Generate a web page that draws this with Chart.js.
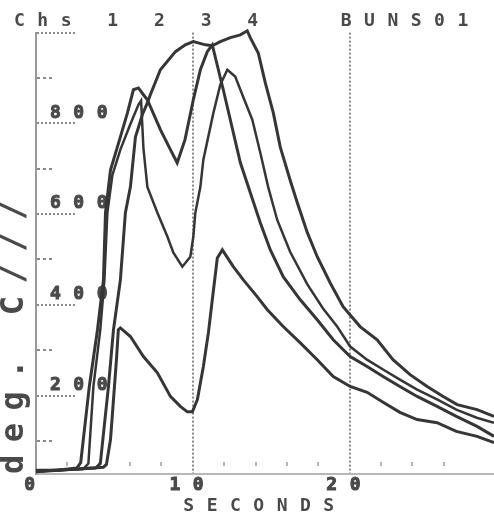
<!DOCTYPE html>
<html>
<head>
<meta charset="utf-8">
<style>
  html, body { margin: 0; padding: 0; background: #fff; }
</style>
</head>
<body>
<canvas id="tempChart" width="494" height="514"></canvas>
<script src="https://cdn.jsdelivr.net/npm/chart.js@4.4.0/dist/chart.umd.min.js"></script>
<script>
// channel traces, seconds / deg C
const ch1Time = [0, 1.5, 2.6, 2.85, 3.4, 3.92, 4.3, 4.43, 4.75, 5.38, 5.83, 6.21, 6.53, 6.85, 7.1, 7.93, 8.57, 9.0, 9.5, 10.03, 10.48, 10.92, 11.24, 11.94, 13.03, 14.3, 14.94, 15.76, 16.85, 17.93, 18.95, 20.03, 21.11, 22.13, 23.2, 24.3, 25.57, 26.8, 28.12, 29.2];
const ch1Temp = [35, 36, 40, 52, 220, 345, 455, 603, 697, 770, 823, 874, 878, 863, 852, 786, 742, 713, 764, 852, 918, 958, 973, 874, 713, 581, 521, 462, 411, 367, 323, 286, 264, 242, 220, 198, 176, 154, 132, 110];

const ch2Time = [0, 3.0, 3.34, 3.66, 4.1, 4.36, 4.55, 4.87, 5.38, 6.0, 6.53, 6.7, 6.85, 7.1, 7.74, 8.38, 8.76, 9.33, 9.84, 10.03, 10.16, 10.48, 10.67, 11.31, 11.75, 12.2, 12.7, 13.2, 13.79, 14.3, 14.8, 15.38, 16.2, 17.3, 18.3, 19.2, 20.03, 21.1, 22.1, 23.2, 24.3, 25.6, 26.8, 28.1, 29.2];
const ch2Temp = [33, 38, 50, 220, 345, 455, 603, 686, 742, 797, 841, 850, 745, 660, 603, 550, 515, 484, 506, 550, 603, 660, 720, 823, 885, 918, 903, 859, 808, 735, 660, 587, 517, 445, 392, 352, 308, 279, 258, 235, 213, 191, 169, 151, 140];

const ch3Time = [0, 3.8, 4.1, 4.62, 4.94, 5.38, 5.7, 6.02, 6.34, 6.78, 7.1, 7.29, 7.93, 8.89, 9.52, 10.03, 10.8, 11.24, 11.75, 12.39, 13.03, 13.47, 13.66, 14.17, 14.62, 15.13, 15.57, 16.2, 16.66, 17.3, 17.93, 18.76, 19.58, 20.66, 21.75, 22.76, 23.85, 24.94, 25.96, 26.85, 28.12, 29.2];
const ch3Temp = [33, 40, 50, 220, 345, 455, 603, 660, 770, 819, 845, 863, 918, 958, 973, 980, 973, 971, 980, 989, 995, 1004, 989, 955, 889, 823, 748, 675, 625, 559, 506, 448, 396, 352, 323, 279, 246, 220, 198, 180, 169, 154];

const ch4Time = [0, 4.3, 4.49, 4.75, 4.94, 5.13, 5.25, 5.38, 6.02, 6.85, 7.74, 8.57, 9.2, 9.65, 9.97, 10.29, 10.67, 10.99, 11.24, 11.56, 11.88, 12.58, 13.22, 14.1, 14.75, 15.76, 16.85, 17.93, 18.95, 20.03, 21.11, 22.13, 23.2, 24.3, 25.57, 26.8, 28.12, 29.2];
const ch4Temp = [32, 42, 48, 103, 191, 279, 345, 349, 330, 286, 250, 198, 176, 164, 164, 191, 264, 338, 411, 503, 521, 484, 455, 418, 389, 352, 316, 279, 242, 220, 207, 185, 163, 147, 140, 121, 110, 96];

const yLabels = [200, 400, 600, 800];
const xLabels = [0, 10, 20];

const ink = '#4a4a4a';
const mono = "'DejaVu Sans Mono', monospace";

function points(ts, vs) {
    return ts.map((t, i) => ({ x: t, y: vs[i] }));
}

function trace(label, ts, vs, w) {
    return {
        label: label,
        data: points(ts, vs),
        borderColor: '#363636',
        borderWidth: w,
        pointRadius: 0,
        tension: 0,
        fill: false,
        clip: false,
    };
}

// short dotted stubs on the y axis
const majorDash = [2, 2, 2, 2, 2, 2, 2, 2, 2, 2, 2, 2, 2, 2, 2, 2, 2, 2, 2, 2000];
const minorDash = [3, 3, 3, 3, 3, 2000];

// wide printer-like lettering
const spacing = {
    id: 'spacing',
    beforeLayout(chart) { chart.ctx.letterSpacing = '12.5px'; },
    beforeDraw(chart) { chart.ctx.letterSpacing = '12.5px'; },
};

new Chart(document.getElementById('tempChart'), {
    type: 'line',
    data: {
        datasets: [
            trace('Ch 1', ch1Time, ch1Temp, 3),
            trace('Ch 2', ch2Time, ch2Temp, 2.5),
            trace('Ch 3', ch3Time, ch3Temp, 3),
            trace('Ch 4', ch4Time, ch4Temp, 3),
        ],
    },
    options: {
        responsive: false,
        animation: false,
        layout: { padding: { left: 14, right: 0, top: 0, bottom: 0 } },
        plugins: {
            legend: { display: false },
            tooltip: { enabled: false },
            title: {
                display: true,
                text: 'Chs 1 2 3 4   BUNS01',
                align: 'start',
                color: ink,
                font: { family: mono, size: 18, weight: 'bold', lineHeight: 1.2 },
                padding: { top: 11, bottom: 0 },
            },
        },
        scales: {
            x: {
                type: 'linear',
                min: 0,
                max: 29.2,
                afterFit: (s) => { s.height = 40; s.paddingLeft = 0; s.paddingRight = 0; },
                ticks: {
                    stepSize: 2,
                    autoSkip: false,
                    maxRotation: 0,
                    padding: 2,
                    color: ink,
                    textStrokeColor: ink,
                    textStrokeWidth: 1,
                    font: { family: mono, size: 18, weight: 'bold', lineHeight: 1 },
                    callback: (v) => (xLabels.includes(v) ? String(v) : ''),
                },
                grid: {
                    drawTicks: false,
                    lineWidth: 2,
                    color: (c) => {
                        const v = c.tick.value;
                        if (v === 0 || v % 2 !== 0) return 'rgba(0,0,0,0)';
                        return v % 10 === 0 ? '#8a8a8a' : '#b5b5b5';
                    },
                },
                border: {
                    color: '#b8b8b8',
                    width: 2,
                    dash: (c) => {
                        if (c.type !== 'tick') return [1, 1];
                        if (c.tick.value % 10 === 0) return [2, 2];
                        const a = c.chart.chartArea;
                        const h = a ? a.bottom - a.top : 440;
                        return [0, h - 12, 4, 2000];
                    },
                },
                title: {
                    display: true,
                    text: 'SECONDS',
                    color: ink,
                    font: { family: mono, size: 18, weight: 'bold', lineHeight: 1 },
                    padding: { top: 0, bottom: -1 },
                },
            },
            y: {
                type: 'linear',
                min: 27,
                max: 1000,
                afterFit: (s) => { s.width = 22; s.paddingTop = 0; s.paddingBottom = 0; },
                ticks: {
                    stepSize: 100,
                    mirror: true,
                    padding: 14,
                    labelOffset: -10.5,
                    color: ink,
                    textStrokeColor: ink,
                    textStrokeWidth: 1,
                    font: { family: mono, size: 18, weight: 'bold', lineHeight: 1 },
                    callback: (v) => (yLabels.includes(v) ? String(v) : ''),
                },
                grid: {
                    drawTicks: false,
                    lineWidth: 2,
                    color: (c) => (c.tick.value % 100 === 0 ? '#8a8a8a' : 'rgba(0,0,0,0)'),
                },
                border: {
                    color: '#9a9a9a',
                    width: 2,
                    dash: (c) => {
                        if (c.type !== 'tick') return [1, 1];
                        return c.tick.value % 200 === 0 ? majorDash : minorDash;
                    },
                },
                title: {
                    display: true,
                    text: 'deg. C///',
                    align: 'start',
                    color: ink,
                    font: { family: mono, size: 32, weight: 'bold', lineHeight: 1 },
                    padding: { top: -15, bottom: 0 },
                },
            },
        },
    },
    plugins: [spacing],
});
</script>
</body>
</html>
